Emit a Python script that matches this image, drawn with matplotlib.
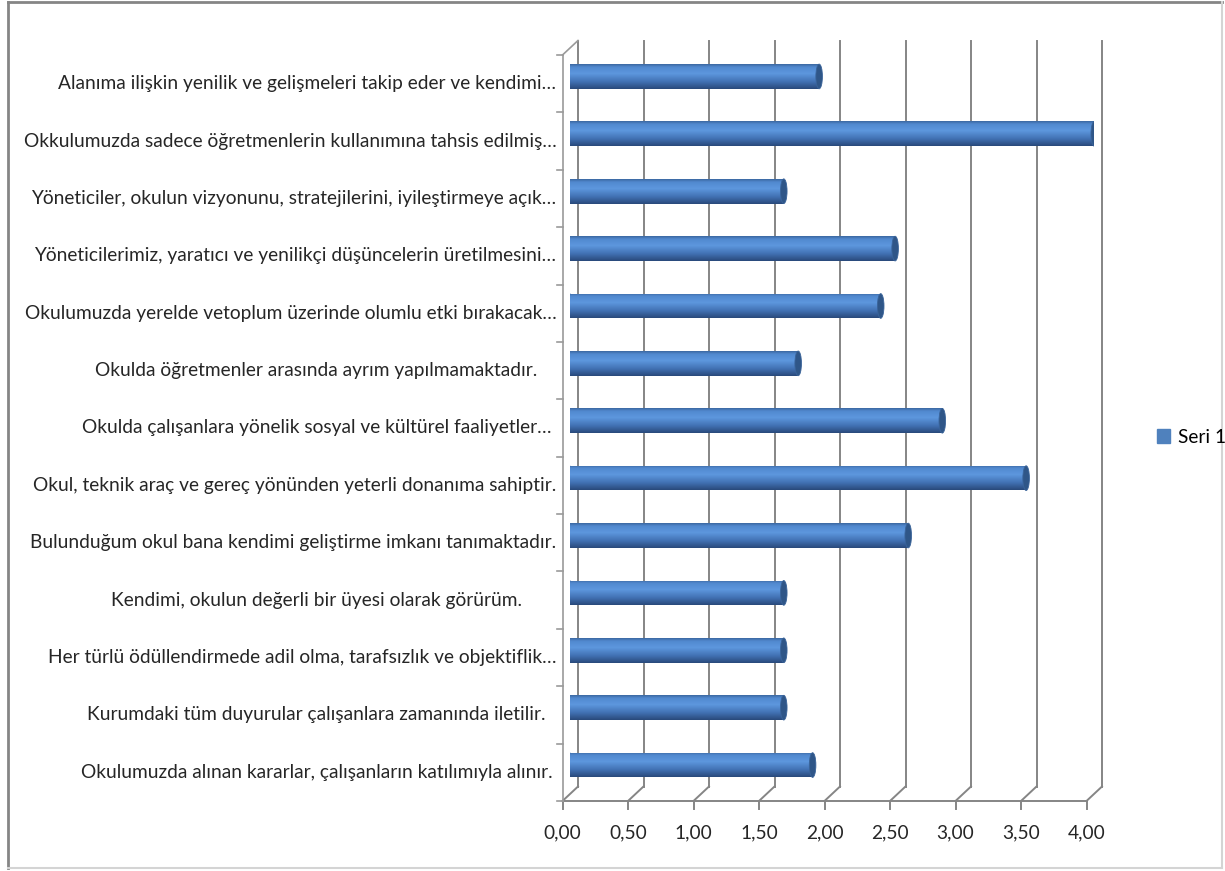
import numpy as np
import matplotlib
matplotlib.use('Agg')
import matplotlib.pyplot as plt
from matplotlib.patches import Ellipse, Patch
from matplotlib.lines import Line2D
from matplotlib.colors import LinearSegmentedColormap

plt.rcParams['font.family'] = ['Lato', 'DejaVu Sans']

# data (top to bottom as shown)
labels = [
    'Alanıma ilişkin yenilik ve gelişmeleri takip eder ve kendimi…',
    'Okkulumuzda sadece öğretmenlerin kullanımına tahsis edilmiş…',
    'Yöneticiler, okulun vizyonunu, stratejilerini, iyileştirmeye açık…',
    'Yöneticilerimiz, yaratıcı ve yenilikçi düşüncelerin üretilmesini…',
    'Okulumuzda yerelde vetoplum üzerinde olumlu etki bırakacak…',
    'Okulda öğretmenler arasında ayrım yapılmamaktadır.',
    'Okulda çalışanlara yönelik sosyal ve kültürel faaliyetler…',
    'Okul, teknik araç ve gereç yönünden yeterli donanıma sahiptir.',
    'Bulunduğum okul bana kendimi geliştirme imkanı tanımaktadır.',
    'Kendimi, okulun değerli bir üyesi olarak görürüm.',
    'Her türlü ödüllendirmede adil olma, tarafsızlık ve objektiflik…',
    'Kurumdaki tüm duyurular çalışanlara zamanında iletilir.',
    'Okulumuzda alınan kararlar, çalışanların katılımıyla alınır.',
]
values = [1.90, 4.00, 1.63, 2.48, 2.37, 1.74, 2.84, 3.48, 2.58, 1.63, 1.63, 1.63, 1.85]
series_name = 'Seri 1'
xticks = [0.0, 0.5, 1.0, 1.5, 2.0, 2.5, 3.0, 3.5, 4.0]
xticklabels = ['0,00', '0,50', '1,00', '1,50', '2,00', '2,50', '3,00', '3,50', '4,00']

W, H = 1225, 871
FS = 13.8
GRID = '#858585'
BAR_H = 0.43
CAP_W = 0.05
# half of the 3d depth, in data units (x: value, y: category)
DX = 7.75 / 131
DY = 7.25 / 57.4

fig = plt.figure(figsize=(W / 100, H / 100), dpi=100)
ax = fig.add_axes([570.25 / W, 1 - 793.75 / H, 524 / W, 746 / H])

ypos = np.arange(len(values))
cyl = LinearSegmentedColormap.from_list('cyl', [
    (0.0, '#3b67a0'), (0.12, '#5189cf'), (0.38, '#5d97de'),
    (0.7, '#4272b4'), (1.0, '#29497a')])
grad = np.linspace(0, 1, 256).reshape(-1, 1)

# back wall gridlines + floor
for v in xticks:
    ax.plot([v + DX, v + DX], [-0.5 - DY, 12.5 - DY], color=GRID, lw=1.4, zorder=1, clip_on=False)
    ax.plot([v + DX, v - DX], [12.5 - DY, 12.5 + DY], color=GRID, lw=1.4, zorder=1, clip_on=False)
    ax.plot([v - DX, v - DX], [12.5 + DY, 12.5 + DY + 8 / 57.4], color=GRID, lw=1.4, zorder=1, clip_on=False)
ax.plot([-DX, 4 - DX], [12.5 + DY, 12.5 + DY], color=GRID, lw=1.4, zorder=1, clip_on=False)

# side wall
ax.plot([-DX, -DX], [-0.5 + DY, 12.5 + DY], color='#9a9a9a', lw=1.2, zorder=1, clip_on=False)
ax.plot([-DX, DX], [-0.5 + DY, -0.5 - DY], color='#9a9a9a', lw=1.2, zorder=1, clip_on=False)
for b in np.arange(-0.5, len(values)):
    ax.plot([-DX - 6 / 131, -DX], [b + DY, b + DY], color='#9a9a9a', lw=1.2, zorder=1, clip_on=False)

# cylinders
bars = ax.barh(ypos, values, height=BAR_H, color='#4F81BD', zorder=2)
for bar, v, y in zip(bars, values, ypos):
    ext = (-CAP_W, v, y + BAR_H / 2, y - BAR_H / 2)
    im = ax.imshow(grad, cmap=cyl, extent=ext, aspect='auto', zorder=3)
    im.set_clip_path(bar)
    left = Ellipse((0, y), CAP_W, BAR_H, facecolor='none', edgecolor='none', zorder=3)
    ax.add_patch(left)
    im2 = ax.imshow(grad, cmap=cyl, extent=ext, aspect='auto', zorder=3)
    im2.set_clip_path(left)
    ax.add_patch(Ellipse((v, y), CAP_W, BAR_H, facecolor='#2f5688',
                         edgecolor='#3a649a', lw=0.6, zorder=4))

ax.set_xlim(0, 4)
ax.set_ylim(len(values) - 0.5, -0.5)
ax.axis('off')

# x tick labels on front edge
for v, t in zip(xticks, xticklabels):
    ax.annotate(t, (v - DX, 12.5 + DY), xytext=(0, -32), textcoords='offset pixels',
                ha='center', va='center', fontsize=FS, color='#262626',
                annotation_clip=False)

# category labels: centred, long ones pushed against the axis
fig.canvas.draw()
renderer = fig.canvas.get_renderer()
for lab, y in zip(labels, ypos):
    t = ax.annotate(lab, (-DX, y + DY), xytext=(-246, 0), textcoords='offset pixels',
                    ha='center', va='center', fontsize=FS, color='#262626',
                    annotation_clip=False)
    bb = t.get_window_extent(renderer)
    if bb.x1 > 557:
        t.set_ha('right')
        t.xyann = (-6, 0)

fig.legend(handles=[Patch(color='#4F81BD', label=series_name)], loc='center left',
           bbox_to_anchor=(1157 / W, 1 - 437 / H), frameon=False, fontsize=FS,
           handlelength=0.7, handleheight=0.8, handletextpad=0.4,
           borderaxespad=0, borderpad=0)

# chart frame
fig.add_artist(Line2D([8 / W, 1222 / W], [1 - 2 / H, 1 - 2 / H], color='#858585', lw=2))
fig.add_artist(Line2D([8 / W, 8 / W], [1 - 2 / H, 1 - 868 / H], color='#858585', lw=2))
fig.add_artist(Line2D([8 / W, 1222 / W], [1 - 868 / H, 1 - 868 / H], color='#d4d4d4', lw=1.5))
fig.add_artist(Line2D([1222 / W, 1222 / W], [1 - 2 / H, 1 - 868 / H], color='#d4d4d4', lw=1.5))

fig.savefig('out.png', dpi=100)
